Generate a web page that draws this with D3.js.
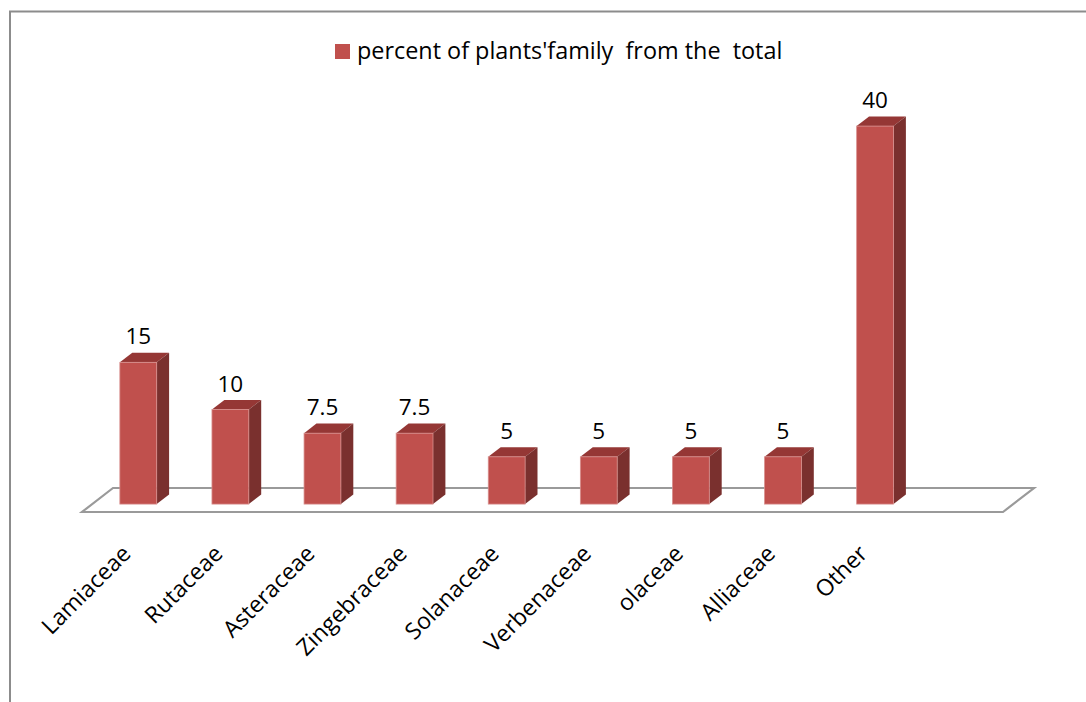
<!DOCTYPE html>
<html>
<head>
<meta charset="utf-8">
<script src="https://cdn.jsdelivr.net/npm/d3@7"></script>
<style>
  html, body { margin: 0; padding: 0; background: #fff; }
  svg { display: block; }
  text { font-family: "Open Sans", "Noto Sans", sans-serif; fill: #000; }
</style>
</head>
<body>
<svg id="chart" width="1086" height="702"></svg>
<script>
// ---- data ----
const categories = ["Lamiaceae", "Rutaceae", "Asteraceae", "Zingebraceae", "Solanaceae", "Verbenaceae", "olaceae", "Alliaceae", "Other"];
const values = [15, 10, 7.5, 7.5, 5, 5, 5, 5, 40];
const valueLabels = ["15", "10", "7.5", "7.5", "5", "5", "5", "5", "40"];
const seriesName = "percent of plants'family  from the  total";
const emptySlots = [" "]; // empty category slot on the floor

// ---- layout ----
const svg = d3.select("#chart");
const W = 1086, H = 702;
const floorFront = { x0: 82, x1: 1003, y: 512 };
const depth = { dx: 31, dy: -24 };        // floor depth vector
const barFront = 0.33, barBack = 0.73;    // fraction of depth where bar faces sit

const x = d3.scaleBand()
  .domain(categories.concat(emptySlots))
  .range([floorFront.x0, floorFront.x1])
  .paddingInner(0.6)
  .paddingOuter(0.3);
const band = d3.scaleBand()
  .domain(categories.concat(emptySlots))
  .range([floorFront.x0, floorFront.x1]);
const y = d3.scaleLinear().domain([0, 40]).range([0, 378]);

const colFront = "#C0504D", colTop = "#953735", colSide = "#7A302E";

// outer frame (left + top border)
svg.append("path")
  .attr("d", `M10,${H} L10,11.5 L${W},11.5`)
  .attr("fill", "none")
  .attr("stroke", "#8c8c8c")
  .attr("stroke-width", 2);

// floor
const f = floorFront;
svg.append("path")
  .attr("d", `M${f.x0},${f.y} L${f.x1},${f.y} L${f.x1 + depth.dx},${f.y + depth.dy} L${f.x0 + depth.dx},${f.y + depth.dy} Z`)
  .attr("fill", "#fff")
  .attr("stroke", "#9a9a9a")
  .attr("stroke-width", 2.2);

// bars
const fx = depth.dx * barFront, fy = depth.dy * barFront;
const bx = depth.dx * barBack,  by = depth.dy * barBack;
const ddx = bx - fx, ddy = by - fy;
const data = categories.map((c, i) => ({ c, v: values[i], label: valueLabels[i] }));

const g = svg.append("g");
const bars = g.selectAll("g.bar").data(data).join("g").attr("class", "bar");
bars.each(function(d) {
  const sel = d3.select(this);
  const left = x(d.c) + fx;
  const w = x.bandwidth();
  const bottom = f.y + fy;
  const top = bottom - y(d.v);
  // top face
  sel.append("path")
    .attr("d", `M${left},${top} L${left + w},${top} L${left + w + ddx},${top + ddy} L${left + ddx},${top + ddy} Z`)
    .attr("fill", colTop);
  // side face
  sel.append("path")
    .attr("d", `M${left + w},${top} L${left + w + ddx},${top + ddy} L${left + w + ddx},${bottom + ddy} L${left + w},${bottom} Z`)
    .attr("fill", colSide);
  // front face
  sel.append("rect")
    .attr("x", left).attr("y", top)
    .attr("width", w).attr("height", y(d.v))
    .attr("fill", colFront)
    .attr("stroke", "#D88F8D")
    .attr("stroke-width", 0.8);
  // value label
  sel.append("text")
    .attr("x", left + w / 2)
    .attr("y", top - 18)
    .attr("text-anchor", "middle")
    .attr("font-size", 22.5)
    .text(d.label);
});

// category labels
svg.append("g").selectAll("text").data(categories).join("text")
  .attr("transform", d => `translate(${band(d) + band.bandwidth() / 2 + 4},555) rotate(-45)`)
  .attr("text-anchor", "end")
  .attr("font-size", 23)
  .text(d => d);

// legend
svg.append("rect").attr("x", 335).attr("y", 44).attr("width", 15).attr("height", 15).attr("fill", colFront);
svg.append("text")
  .attr("x", 357).attr("y", 58.5)
  .attr("font-size", 23.4)
  .style("white-space", "pre")
  .attr("xml:space", "preserve")
  .text(seriesName);
</script>
</body>
</html>
